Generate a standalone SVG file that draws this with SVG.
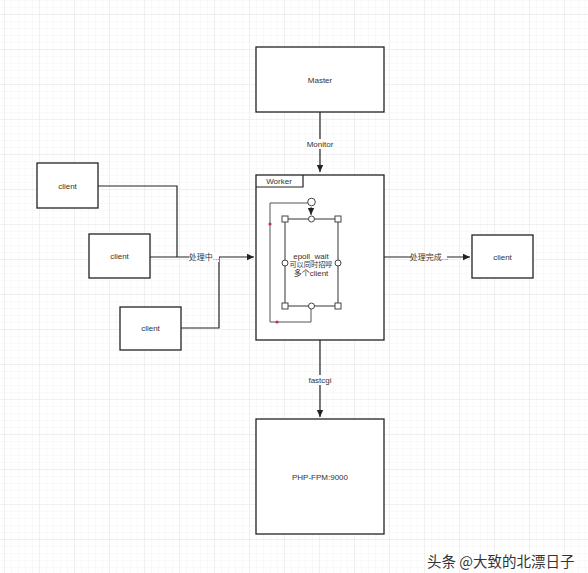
<svg xmlns="http://www.w3.org/2000/svg" width="588" height="573" viewBox="0 0 588 573">
<defs>
<pattern id="minor" width="7" height="7" patternUnits="userSpaceOnUse" x="5" y="1">
<path d="M7 0V7M0 7H7" fill="none" stroke="#f3f3f3" stroke-width="1"/>
</pattern>
<pattern id="major" width="35" height="35" patternUnits="userSpaceOnUse" x="5" y="15">
<path d="M35 0V35M0 35H35" fill="none" stroke="#e6e6e6" stroke-width="1"/>
</pattern>
<marker id="arr" markerWidth="8" markerHeight="8" refX="7" refY="4" orient="auto" markerUnits="userSpaceOnUse">
<path d="M0,0.8 L7,4 L0,7.2 Z" fill="#222"/>
</marker>
</defs>
<style>
.box{fill:#fff;stroke:#222;stroke-width:1.3}
.t{font-family:"Liberation Sans","Noto Sans CJK SC",sans-serif;font-size:8px;fill:#333;text-anchor:middle;dominant-baseline:central}
.ln{fill:none;stroke:#222;stroke-width:1.2}
.lbl{fill:#fff}
.h{fill:#fff;stroke:#444;stroke-width:1}
.rd{fill:#c0325a}
</style>
<rect width="588" height="573" fill="#fff"/>
<rect width="588" height="573" fill="url(#minor)"/>
<rect width="588" height="573" fill="url(#major)"/>

<g id="connectors">
<path class="ln" d="M320 112V172" marker-end="url(#arr)"/>
<rect class="lbl" x="306" y="139" width="28" height="10"/>
<text class="t" x="320" y="144">Monitor</text>
<path class="ln" d="M98 186H177V257"/>
<path class="ln" d="M181 328H219V257"/>
<path class="ln" d="M150 257H254" marker-end="url(#arr)"/>
<rect class="lbl" x="189" y="252" width="30" height="10"/>
<text class="t" x="204" y="257">处理中...</text>
<path class="ln" d="M384 257H470" marker-end="url(#arr)"/>
<rect class="lbl" x="411" y="252" width="36" height="10"/>
<text class="t" x="429" y="257">处理完成...</text>
<path class="ln" d="M320 340V417" marker-end="url(#arr)"/>
<rect class="lbl" x="308" y="375" width="24" height="10"/>
<text class="t" x="320" y="380">fastcgi</text>
</g>

<g id="master">
<rect class="box" x="256" y="47" width="128" height="65"/>
<text class="t" x="320" y="80">Master</text>
</g>

<g id="worker">
<rect class="box" x="256" y="175" width="128" height="165"/>
<path class="ln" d="M256 187H303V175"/>
<text class="t" x="279" y="181">Worker</text>
</g>

<g id="epoll">
<path fill="none" stroke="#555" stroke-width="1" d="M311 203H270V322H311V307"/>
<path fill="none" stroke="#333" stroke-width="1" d="M311 207V215" marker-end="url(#arr)"/>
<rect fill="none" stroke="#555" stroke-width="1.2" x="285" y="219" width="53" height="87"/>
<rect class="h" x="282" y="216" width="6" height="6"/>
<rect class="h" x="335" y="216" width="6" height="6"/>
<rect class="h" x="282" y="303" width="6" height="6"/>
<rect class="h" x="335" y="303" width="6" height="6"/>
<circle class="h" cx="311.5" cy="219" r="3"/>
<circle class="h" cx="311.5" cy="306" r="3"/>
<circle class="h" cx="285" cy="263" r="3"/>
<circle class="h" cx="338" cy="263" r="3"/>
<circle class="h" cx="311.5" cy="202" r="3.8"/>
<circle class="rd" cx="270" cy="224" r="1.6"/>
<circle class="rd" cx="277" cy="322" r="1.6"/>
<text class="t" x="311" y="256">epoll_wait</text>
<text class="t" x="311" y="264.5" style="font-size:7.2px">可以同时招呼</text>
<text class="t" x="311" y="273">多个client</text>
</g>

<g id="client1">
<rect class="box" x="37" y="163" width="61" height="45"/>
<text class="t" x="67.5" y="186">client</text>
</g>
<g id="client2">
<rect class="box" x="89" y="234" width="61" height="44"/>
<text class="t" x="119.5" y="256">client</text>
</g>
<g id="client3">
<rect class="box" x="120" y="307" width="61" height="43"/>
<text class="t" x="150.5" y="328">client</text>
</g>
<g id="client4">
<rect class="box" x="472" y="235" width="61" height="43"/>
<text class="t" x="502.5" y="257">client</text>
</g>

<g id="phpfpm">
<rect class="box" x="256" y="419" width="128" height="115"/>
<text class="t" x="320" y="477">PHP-FPM:9000</text>
</g>

<text x="427" y="567" font-family="'Noto Sans CJK SC',sans-serif" font-size="14.5" fill="#333" stroke="#fff" stroke-width="2.5" paint-order="stroke">头条 @大致的北漂日子</text>
</svg>
